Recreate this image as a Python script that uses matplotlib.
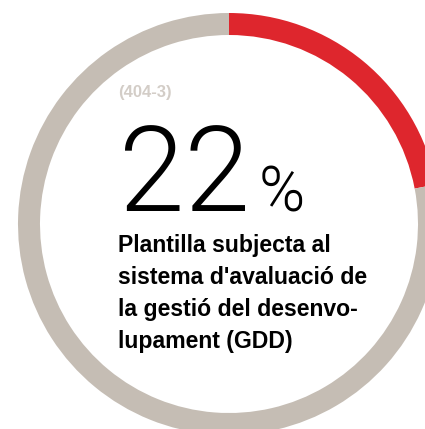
import matplotlib
matplotlib.use("Agg")
import matplotlib.pyplot as plt

# dades
share = [22, 78]
ring_colors = ["#de262d", "#c5bdb4"]
code_label = "(404-3)"
value_label = "22"
unit_label = "%"
desc_lines = ["Plantilla subjecta al",
              "sistema d'avaluació de",
              "la gestió del desenvo-",
              "lupament (GDD)"]

fig = plt.figure(figsize=(4.25, 4.29), dpi=100)
ax = fig.add_axes([0, 0, 1, 1])

# anell (coordenades en píxels, y cap amunt)
ax.pie(share, colors=ring_colors, startangle=90, counterclock=False,
       center=(229, 205), radius=211,
       wedgeprops=dict(width=22, linewidth=0))

ax.set_xlim(0, 425)
ax.set_ylim(0, 429)
ax.set_aspect("equal")
ax.axis("off")

ax.text(118, 332, code_label, fontsize=12, fontweight="bold",
        color="#d3cdc7", family="Liberation Sans", va="baseline")
ax.text(119, 218, value_label, fontsize=85, fontweight=300,
        family="Roboto", color="black", va="baseline")
ax.text(259, 218, unit_label, fontsize=45, fontweight=300,
        family="Roboto", color="black", va="baseline")

y0 = 177
for i, line in enumerate(desc_lines):
    ax.text(118, y0 - i * 32, line, fontsize=16.6, fontweight="bold",
            family="Liberation Sans", color="black", va="baseline")

fig.savefig("out.png", dpi=100)
